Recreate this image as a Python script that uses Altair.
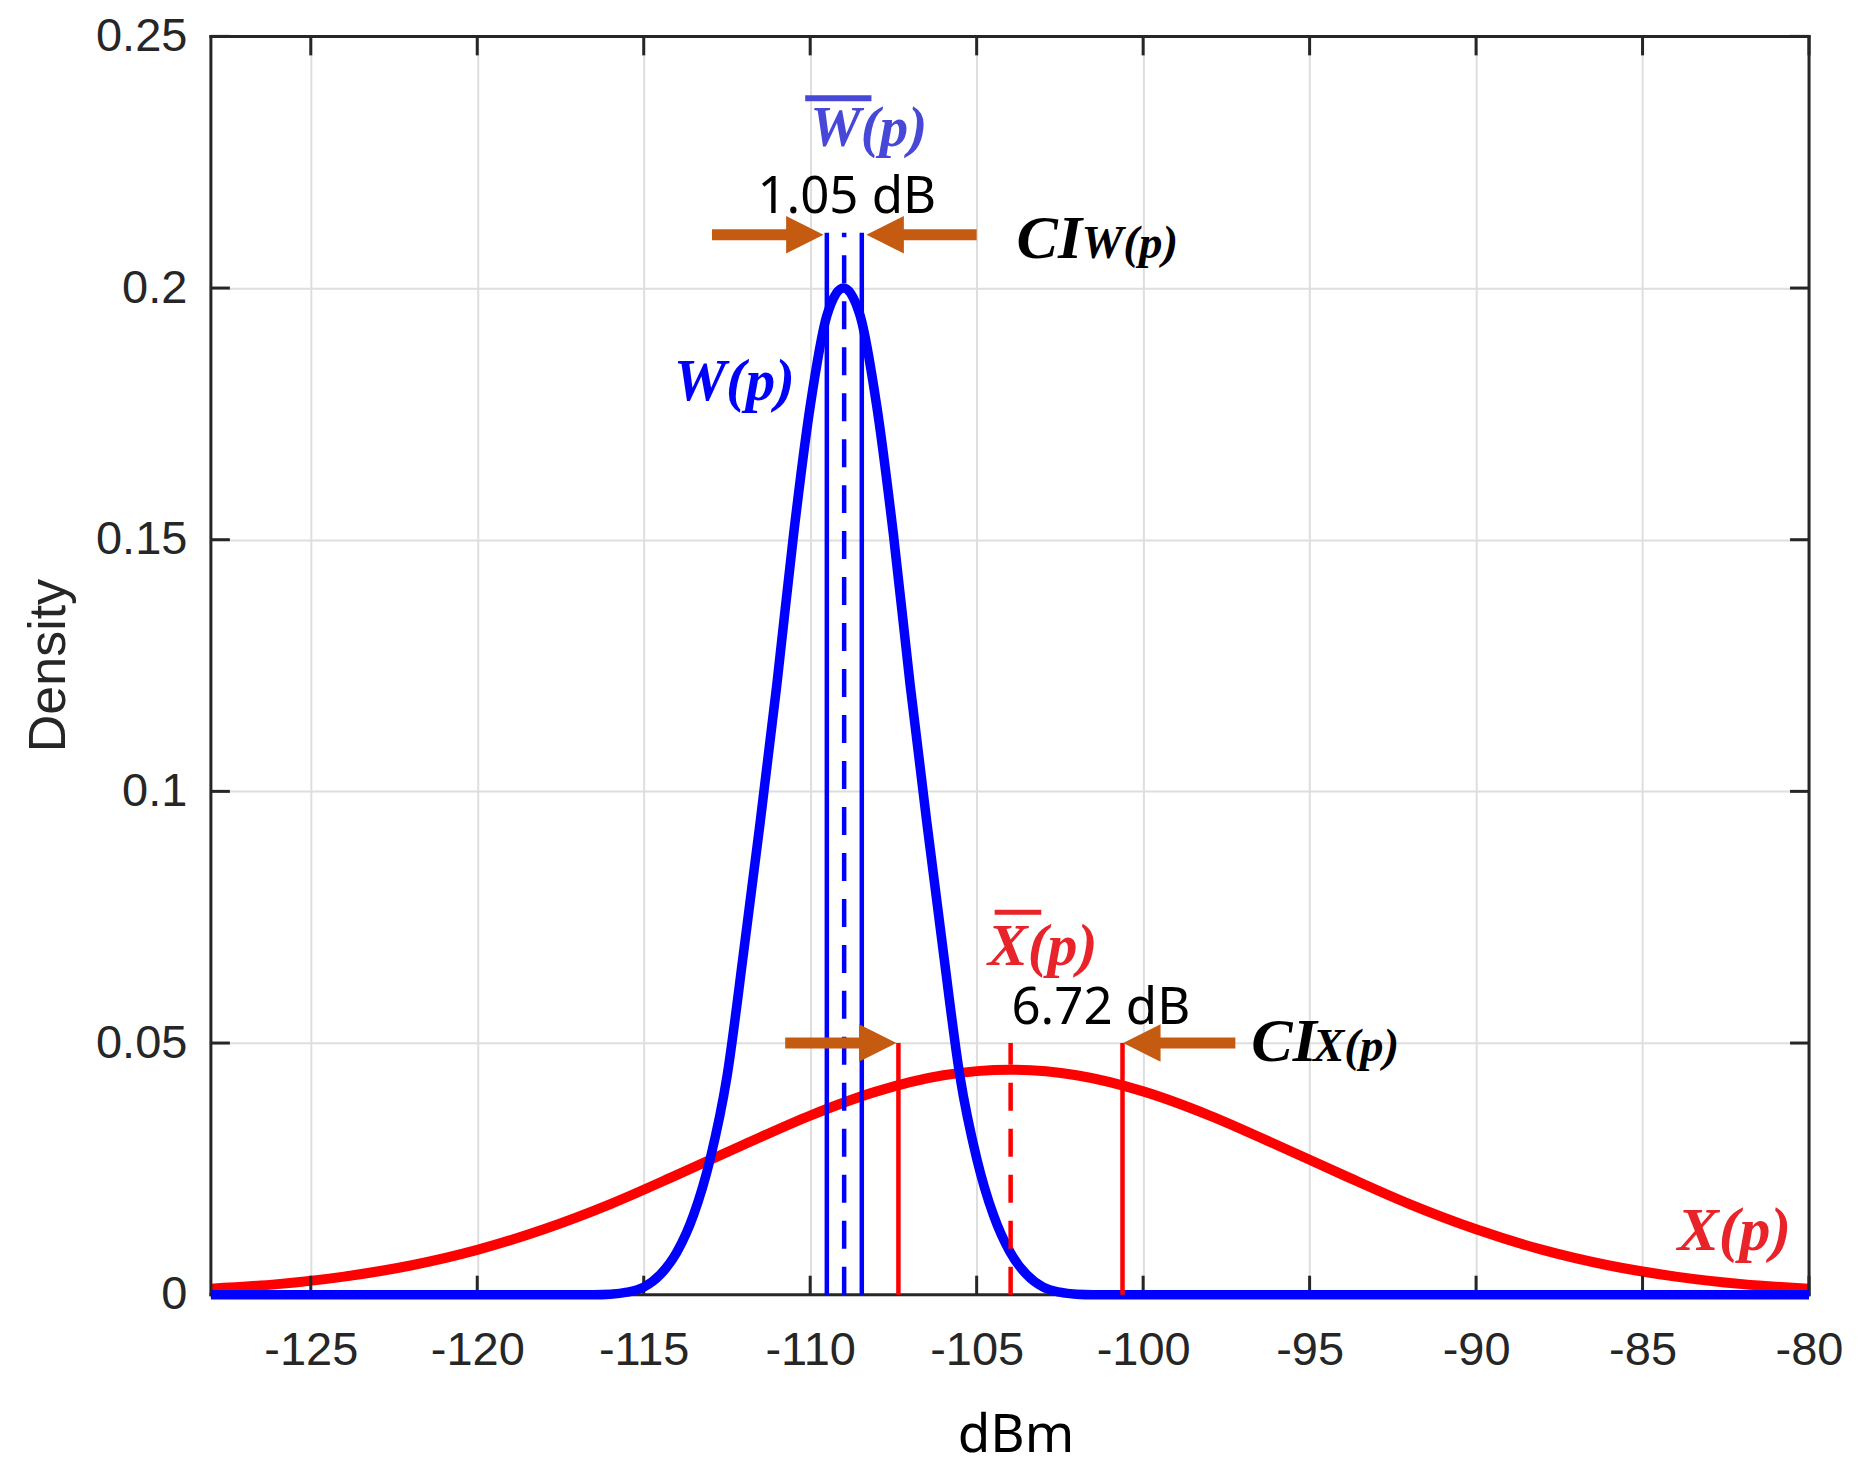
import altair as alt
import pandas as pd

# ---------------- data ----------------
x_ticks = [-125, -120, -115, -110, -105, -100, -95, -90, -85, -80]
y_ticks = [0, 0.05, 0.1, 0.15, 0.2, 0.25]

# X(p) density (red)
x_red = [-128, -126, -124, -122, -120, -118, -116, -114, -112, -110, -108, -106,
         -104, -102, -100, -98, -96, -94, -92, -90, -88, -86, -84, -82, -80]
y_red = [0.0012, 0.0021, 0.0036, 0.0058, 0.0089, 0.0130, 0.0180, 0.0238, 0.0298,
         0.0356, 0.0404, 0.0436, 0.0447, 0.0436, 0.0404, 0.0356, 0.0298, 0.0238,
         0.0180, 0.0130, 0.0089, 0.0058, 0.0036, 0.0021, 0.0012]

# W(p) density (blue)
x_blue = [-128, -116.5, -116, -115.5, -115, -114.5, -114, -113.5, -113, -112.5,
          -112, -111.5, -111, -110.5, -110, -109.5, -109, -108.5, -108, -107.5,
          -107, -106.5, -106, -105.5, -105, -104.5, -104, -103.5, -103, -102.5,
          -102, -101.5, -80]
y_blue = [0, 0, 0.0001, 0.0005, 0.0015, 0.004, 0.0085, 0.0159, 0.0271, 0.0433,
          0.068, 0.094, 0.1213, 0.151, 0.1765, 0.1945, 0.2, 0.1945, 0.1765, 0.151,
          0.1213, 0.094, 0.068, 0.0433, 0.0271, 0.0159, 0.0085, 0.004, 0.0015,
          0.0005, 0.0001, 0, 0]

# confidence intervals and means
ci_w = [-109.5, -108.45]
mean_w = [-108.98]
top_w = 0.211
ci_x = [-107.35, -100.62]
mean_x = [-103.98]
top_x = 0.05

# arrows: shaft start, shaft end, tip, level
arrow_shaft_from = [-112.95, -105.0, -110.75, -97.23]
arrow_shaft_to = [-110.6, -107.4, -108.4, -99.55]
arrow_tip = [-109.6, -108.31, -107.41, -100.6]
arrow_level = [0.2106, 0.2106, 0.05, 0.05]
arrow_dir = ["right", "left", "right", "left"]

# labels
width_labels = ["1.05 dB", "6.72 dB"]
width_x = [-108.9, -101.27]
width_y = [0.2150, 0.0538]

ci_main_x = [-103.8, -96.75]
ci_main_y = [0.206, 0.0464]
ci_sub_text = ["W(p)", "X(p)"]
ci_sub_x = [-101.85, -94.9]

# ---------------- styling ----------------
W_PX, H_PX = 1599, 1259
AX = "#262626"
ORANGE = "#c55a11"
xs = alt.Scale(domain=[-128, -80], nice=False, zero=False)
ys = alt.Scale(domain=[0, 0.25], nice=False, zero=False)

x_axis = alt.Axis(values=x_ticks, labelExpr="'' + datum.value", title="dBm",
                  labelFont="Liberation Sans", labelFontSize=47, labelColor=AX,
                  labelPadding=33, labelFlush=False, labelOverlap=False,
                  ticks=False, domain=False, grid=True, gridColor="#dedede",
                  gridWidth=2, titleFont="Noto Sans", titleFontSize=53,
                  titleFontWeight="normal", titleColor="#000000", titleX=805,
                  titleY=157, titleAlign="center", titleBaseline="alphabetic")
y_axis = alt.Axis(values=y_ticks, labelExpr="'' + datum.value", title="Density",
                  labelFont="Liberation Sans", labelFontSize=47, labelColor=AX,
                  labelPadding=24, labelOverlap=False, ticks=False, domain=False,
                  grid=True, gridColor="#dedede", gridWidth=2,
                  titleFont="Liberation Sans", titleFontSize=52,
                  titleFontWeight="normal", titleColor=AX, titleAngle=270,
                  titleX=-146, titleY=629, titleAlign="center",
                  titleBaseline="alphabetic")


def X(field, **kw):
    return alt.X(field, scale=xs, axis=x_axis, **kw)


def Y(field, **kw):
    return alt.Y(field, scale=ys, axis=y_axis, **kw)


red_df = pd.DataFrame({"x": x_red, "y": y_red})
blue_df = pd.DataFrame({"x": x_blue, "y": y_blue})

red = alt.Chart(red_df).mark_line(color="#ff0000", strokeWidth=10,
                                  interpolate="monotone").encode(
    x=X("x:Q"), y=Y("y:Q"))
blue = alt.Chart(blue_df).mark_line(color="#0000ff", strokeWidth=9.5,
                                    interpolate="monotone").encode(
    x=X("x:Q"), y=Y("y:Q"))

# frame
frame_v = alt.Chart(pd.DataFrame({"x": [-128, -80]})).mark_rule(
    color=AX, strokeWidth=3, strokeCap="square").encode(x=X("x:Q"))
frame_h = alt.Chart(pd.DataFrame({"y": [0, 0.25]})).mark_rule(
    color=AX, strokeWidth=3, strokeCap="square").encode(y=Y("y:Q"))

# inner ticks
xt = pd.DataFrame({"x": x_ticks})
yt = pd.DataFrame({"y": y_ticks})
tick_b = alt.Chart(xt).mark_rule(color=AX, strokeWidth=3).encode(
    x=X("x:Q"), y=alt.value(H_PX), y2=alt.value(H_PX - 19))
tick_t = alt.Chart(xt).mark_rule(color=AX, strokeWidth=3).encode(
    x=X("x:Q"), y=alt.value(0), y2=alt.value(19))
tick_l = alt.Chart(yt).mark_rule(color=AX, strokeWidth=3).encode(
    y=Y("y:Q"), x=alt.value(0), x2=alt.value(19))
tick_r = alt.Chart(yt).mark_rule(color=AX, strokeWidth=3).encode(
    y=Y("y:Q"), x=alt.value(W_PX), x2=alt.value(W_PX - 19))


# CI lines
def vlines(xv, top, color, dash=None):
    df = pd.DataFrame({"x": xv, "y": [0] * len(xv), "y1": [top] * len(xv)})
    kw = dict(color=color, strokeWidth=4.5)
    if dash:
        kw["strokeDash"] = dash
    return alt.Chart(df).mark_rule(**kw).encode(
        x=X("x:Q"), y=Y("y:Q"), y2="y1:Q")


ci_w_lines = vlines(ci_w, top_w, "#0000ff")
mean_w_line = vlines(mean_w, top_w, "#0000ff", [28, 18])
ci_x_lines = vlines(ci_x, top_x, "#ff0000")
mean_x_line = vlines(mean_x, top_x, "#ff0000", [28, 18])

# arrows
arr_df = pd.DataFrame({"x": arrow_shaft_from, "x1": arrow_shaft_to,
                       "tip": arrow_tip, "y": arrow_level, "dir": arrow_dir})
shafts = alt.Chart(arr_df).mark_rule(color=ORANGE, strokeWidth=11).encode(
    x=X("x:Q"), x2="x1:Q", y=Y("y:Q"))
head_r = alt.Chart(arr_df).transform_filter("datum.dir == 'right'").mark_point(
    shape="M0,0L-2,-1L-2,1Z", filled=True, size=1400, color=ORANGE,
    opacity=1, strokeWidth=0).encode(x=X("tip:Q"), y=Y("y:Q"))
head_l = alt.Chart(arr_df).transform_filter("datum.dir == 'left'").mark_point(
    shape="M0,0L2,-1L2,1Z", filled=True, size=1400, color=ORANGE,
    opacity=1, strokeWidth=0).encode(x=X("tip:Q"), y=Y("y:Q"))


# texts
def label(text, x, y, size, color):
    df = pd.DataFrame({"t": [text], "x": [x], "y": [y]})
    return alt.Chart(df).mark_text(font="Liberation Serif", fontSize=size,
                                   fontStyle="italic", fontWeight="bold",
                                   color=color, align="left",
                                   baseline="alphabetic").encode(
        x=X("x:Q"), y=Y("y:Q"), text="t:N")


def bar(x0, x1, y, color, w):
    df = pd.DataFrame({"x": [x0], "x1": [x1], "y": [y]})
    return alt.Chart(df).mark_rule(color=color, strokeWidth=w).encode(
        x=X("x:Q"), x2="x1:Q", y=Y("y:Q"))


wl_df = pd.DataFrame({"t": width_labels, "x": width_x, "y": width_y})
width_text = alt.Chart(wl_df).mark_text(font="Noto Sans", fontSize=51,
                                        color="#000000", align="center",
                                        baseline="alphabetic").encode(
    x=X("x:Q"), y=Y("y:Q"), text="t:N")

ci_df = pd.DataFrame({"t": ["CI", "CI"], "x": ci_main_x, "y": ci_main_y})
ci_main = alt.Chart(ci_df).mark_text(font="Liberation Serif", fontSize=62,
                                     fontStyle="italic", fontWeight="bold",
                                     color="#000000", align="left",
                                     baseline="alphabetic").encode(
    x=X("x:Q"), y=Y("y:Q"), text="t:N")
cs_df = pd.DataFrame({"t": ci_sub_text, "x": ci_sub_x, "y": ci_main_y})
ci_sub = alt.Chart(cs_df).mark_text(font="Liberation Serif", fontSize=47,
                                    fontStyle="italic", fontWeight="bold",
                                    color="#000000", align="left",
                                    baseline="alphabetic").encode(
    x=X("x:Q"), y=Y("y:Q"), text="t:N")

wbar_text = label("W(p)", -110.0, 0.2282, 57, "#4848d8")
wbar_line = bar(-110.15, -108.16, 0.2377, "#4848d8", 6)
w_text = label("W(p)", -114.1, 0.1777, 59, "#0000ff")
xbar_text = label("X(p)", -104.67, 0.0655, 60, "#e8242a")
xbar_line = bar(-104.46, -103.06, 0.076, "#e8242a", 5)
x_text = label("X(p)", -83.95, 0.0089, 62, "#e8242a")

chart = alt.layer(
    red, frame_v, frame_h, tick_b, tick_t, tick_l, tick_r, blue,
    ci_w_lines, mean_w_line, ci_x_lines, mean_x_line,
    shafts, head_r, head_l,
    width_text, ci_main, ci_sub, wbar_text, wbar_line, w_text,
    xbar_text, xbar_line, x_text,
).properties(
    width=W_PX, height=H_PX,
    padding={"left": 203, "top": 28, "right": 49, "bottom": 182},
    autosize=alt.AutoSizeParams(type="none"),
    background="#ffffff",
).configure_view(stroke=None)

chart.save("out.html", embed_options={"renderer": "svg", "actions": False})
